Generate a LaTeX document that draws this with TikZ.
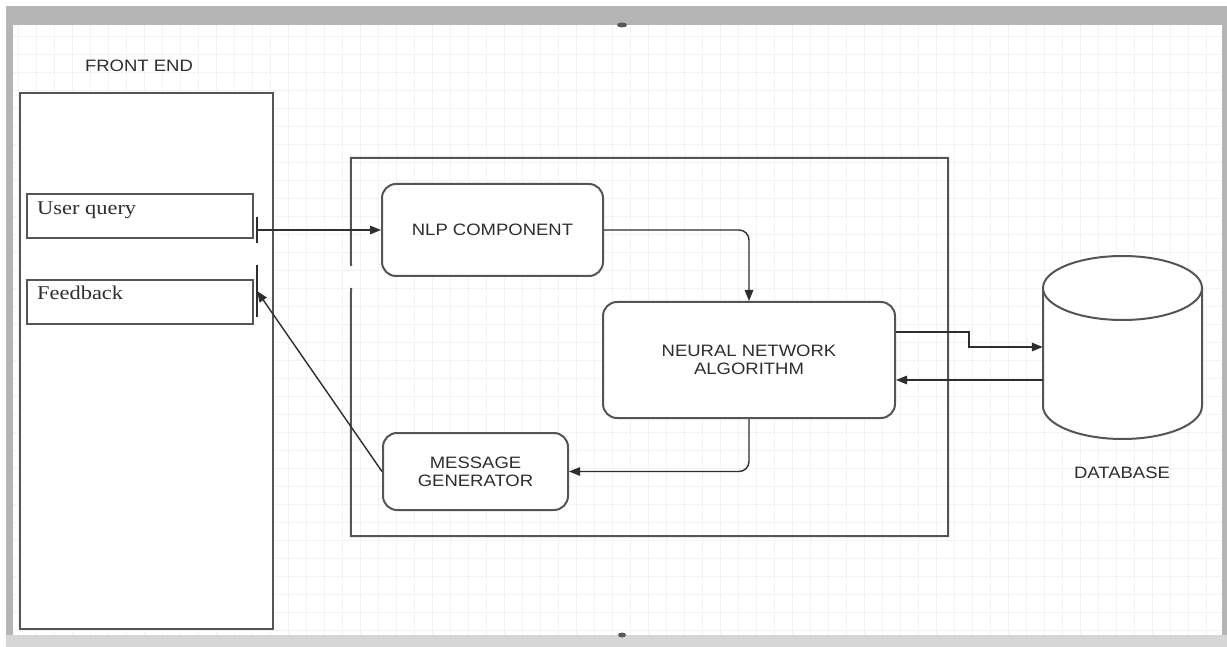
\documentclass[tikz,border=0pt]{standalone}
\usepackage{fontspec}
\setmainfont{Liberation Serif}
\newfontfamily\labelfont{Liberation Sans}
\usetikzlibrary{arrows.meta,calc}
\definecolor{frame}{HTML}{B5B5B5}
\definecolor{framelo}{HTML}{D6D6D6}
\definecolor{gridc}{HTML}{F3F3F3}
\definecolor{edge}{HTML}{555555}
\definecolor{ink}{HTML}{2E2E2E}
% slightly widened lettering
\newcommand\capsline[1]{\scalebox{1.12}[1]{#1}}
\newcommand\serifline[1]{\scalebox{1.15}[1]{#1}}

\begin{document}
\begin{tikzpicture}[x=1pt,y=-1pt,
  box/.style={draw=edge,line width=2pt,fill=white,inner sep=0pt},
  proc/.style={box,rounded corners=14pt,text=ink,align=center,
    font=\labelfont\fontsize{16.5}{18}\selectfont},
  field/.style={draw=edge,line width=1.6pt,fill=white,inner sep=0pt,
    minimum width=226pt,minimum height=44pt,anchor=north west},
  fieldtext/.style={anchor=base west,inner sep=0pt,text=ink,
    font=\fontsize{19.5}{22}\selectfont},
  caption/.style={inner sep=0pt,text=ink,font=\labelfont\fontsize{16.5}{18}\selectfont},
  link/.style={draw=ink,line width=1.4pt},
  flow/.style={link,-{Triangle[length=11pt,width=8.5pt]}}]

\useasboundingbox (0,0) rectangle (1227,647);

% canvas: white sheet, faint grid, grey window frame
\fill[white] (0,0) rectangle (1227,647);
\draw[gridc,line width=0.6pt,step=18pt] (13,25) grid (1222,635);
\fill[frame] (6,6) rectangle (1227,25);
\fill[frame] (6,6) rectangle (13,647);
\fill[frame] (1222,6) rectangle (1227,647);
\fill[framelo] (6,635) rectangle (1227,647);
\fill[black!65] (622,25) ellipse[x radius=5pt,y radius=2.5pt];
\fill[black!65] (622,635) ellipse[x radius=4pt,y radius=2.5pt];

% front end panel
\node[box,minimum width=253pt,minimum height=536pt] (front) at (146.5,361) {};
\node[caption] (fronttitle) at (139,66) {\capsline{FRONT END}};
\node[field] (query) at (26,193) {};
\node[fieldtext] (querytext) at (37,215) {\serifline{User query}};
\node[field] (feedback) at (26,279) {};
\node[fieldtext] (feedbacktext) at (37,300) {\serifline{Feedback}};

% ports on the front end
\coordinate (qport) at (257,230);
\coordinate (fport) at (257,291);
\draw[link] (257,217) -- (257,243);
\draw[link] (257,265) -- (257,317);

% back end container, left edge open where the query enters
\node[inner sep=0pt,minimum width=597pt,minimum height=378pt] (core) at (649.5,347) {};
\draw[draw=edge,line width=2pt] (351,266) -- (core.north west) -- (core.north east)
  -- (core.south east) -- (core.south west) -- (351,288);

% processing blocks
\node[proc,minimum width=221pt,minimum height=92pt] (nlp) at (492.5,230) {\capsline{NLP COMPONENT}};
\node[proc,minimum width=292pt,minimum height=116pt] (nn) at (749,360)
  {\capsline{NEURAL NETWORK}\\\capsline{ALGORITHM}};
\node[proc,minimum width=185pt,minimum height=77pt] (mg) at (475.5,471.5)
  {\capsline{MESSAGE}\\\capsline{GENERATOR}};

% database cylinder
\node[inner sep=0pt,minimum width=159pt,minimum height=184pt] (db) at (1122.5,347) {};
\draw[draw=edge,line width=2pt,fill=white] (1043,288) -- (1043,406)
  arc[start angle=180,end angle=360,x radius=79.5pt,y radius=33pt] -- (1202,288);
\draw[draw=edge,line width=2pt,fill=white] (1122.5,288) ellipse[x radius=79.5pt,y radius=32pt];
\node[caption] (dblabel) at (1122,473) {\capsline{DATABASE}};

% data flow
\draw[flow] (qport) -- (nlp.west);
\draw[flow,rounded corners=10pt] (nlp.east) -| (nn.north);
\draw[flow,rounded corners=10pt] (nn.south) |- (mg.east);
\draw[flow] (mg.west) -- (fport);
\draw[flow] ([yshift=28pt]nn.east) -- ++(73,0) -- ++(0,15) -- (db.west |- 0,347);
\draw[flow] (db.west |- 0,380) -- (nn.east |- 0,380);
\end{tikzpicture}
\end{document}
